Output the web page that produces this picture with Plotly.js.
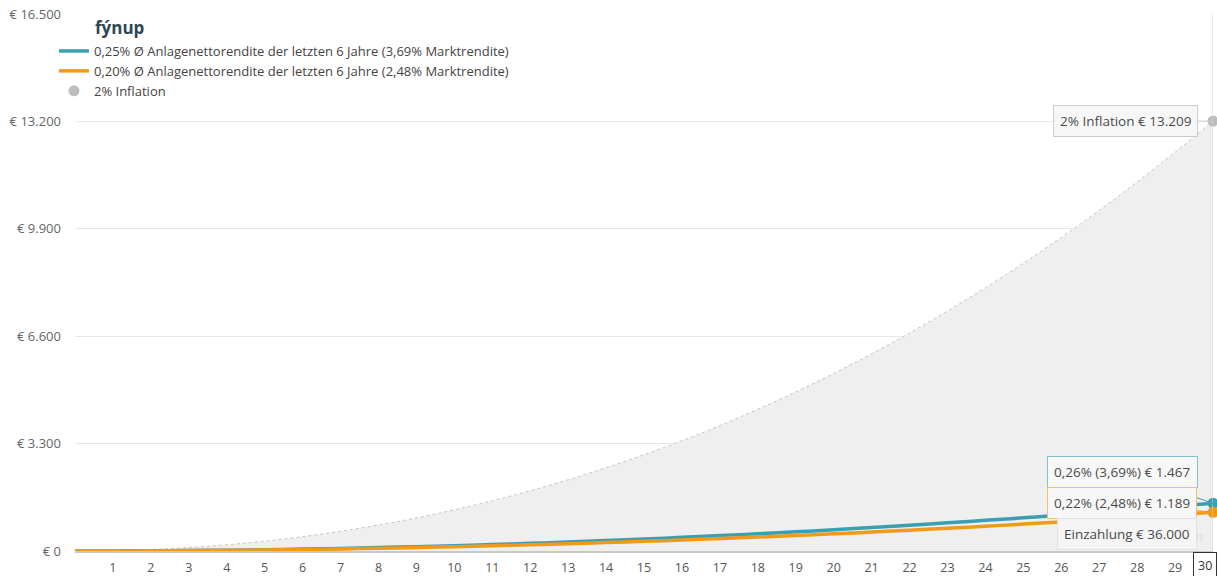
<!DOCTYPE html>
<html>
<head>
<meta charset="utf-8">
<script src="https://cdn.plot.ly/plotly-3.0.1.min.js"></script>
<style>html,body{margin:0;padding:0;background:#fff;}#chart{width:1217px;height:576px;}</style>
</head>
<body>
<div id="chart"></div>
<script>
// Years 0..30
const years = [0,1,2,3,4,5,6,7,8,9,10,11,12,13,14,15,16,17,18,19,20,21,22,23,24,25,26,27,28,29,30];
// Gain, 0,26% net return (3,69% market return)
const gainTeal = [0,2,7,15,26,41,59,80,105,133,164,198,236,277,321,368,419,473,530,590,654,721,791,865,941,1021,1104,1190,1280,1372,1467];
// Gain, 0,22% net return (2,48% market return)
const gainOrange = [0,1,5,12,21,33,48,65,85,107,132,160,190,223,259,297,338,382,428,477,528,583,639,699,761,826,893,963,1036,1111,1189];
// Loss from 2% inflation
const inflation = [0,11,47,106,192,303,441,605,798,1017,1265,1543,1850,2188,2557,2957,3388,3854,4353,4885,5452,6057,6696,7372,8086,8840,9632,10465,11338,12253,13209];

const seriesNames = [
  "0,25% Ø Anlagenettorendite der letzten 6 Jahre (3,69% Marktrendite)",
  "0,20% Ø Anlagenettorendite der letzten 6 Jahre (2,48% Marktrendite)",
  "2% Inflation"
];
const labelTeal = "0,26% (3,69%) € 1.467";
const labelOrange = "0,22% (2,48%) € 1.189";
const labelInfl = "2% Inflation € 13.209";
const labelDeposit = "Einzahlung € 36.000";

const xTicks = years.slice(1);

const TEAL = "#3a9fb1", ORANGE = "#f09a1a", GREY = "#bdbdbd";
const last = years.length - 1;

const traces = [
  {x: years, y: inflation, type: "scatter", mode: "lines", fill: "tozeroy",
   fillcolor: "#efefef", line: {color: "#c4c4c4", width: 1, dash: "dot", shape: "spline"},
   showlegend: false, hoverinfo: "skip"},
  {x: years, y: gainTeal, type: "scatter", mode: "lines", name: seriesNames[0],
   line: {color: TEAL, width: 3.5, shape: "spline"}},
  {x: years, y: gainOrange, type: "scatter", mode: "lines", name: seriesNames[1],
   line: {color: ORANGE, width: 3.5, shape: "spline"}},
  {x: [years[last]], y: [inflation[last]], type: "scatter", mode: "markers", name: seriesNames[2],
   marker: {color: GREY, size: 11}, cliponaxis: false},
  {x: [years[last]], y: [gainTeal[last]], type: "scatter", mode: "markers", showlegend: false,
   marker: {color: TEAL, size: 11}, cliponaxis: false},
  {x: [years[last]], y: [gainOrange[last]], type: "scatter", mode: "markers", showlegend: false,
   marker: {color: ORANGE, size: 11}, cliponaxis: false}
];

const boxFont = {family: "Open Sans, sans-serif", size: 13.5, color: "#4a4a4a"};

const layout = {
  width: 1217, height: 576,
  margin: {l: 75, r: 4, t: 14, b: 25, autoexpand: false},
  paper_bgcolor: "#fff", plot_bgcolor: "#fff",
  separators: ",.",
  font: {family: "Open Sans, sans-serif", size: 12, color: "#666"},
  showlegend: true,
  legend: {x: -0.0185, y: 0.959, xanchor: "left", yanchor: "top", bgcolor: "rgba(0,0,0,0)",
           font: {family: "Open Sans, sans-serif", size: 13, color: "#444"},
           tracegroupgap: 0, itemwidth: 30},
  xaxis: {range: [0, 30], tickvals: xTicks, showgrid: false, zeroline: false,
          showline: true, linecolor: "#c8c8c8", linewidth: 2, ticks: "",
          ticklabelstandoff: 4,
          tickfont: {size: 12.5, color: "#555"}, fixedrange: true},
  yaxis: {range: [0, 16500], tickmode: "linear", tick0: 0, dtick: 3300,
          tickprefix: "€ ", tickformat: ",d",
          showgrid: true, gridcolor: "#e8e8e8", gridwidth: 1, zeroline: false,
          showline: false, ticks: "", ticklabelstandoff: 13,
          tickfont: {size: 13, color: "#666"}, fixedrange: true},
  shapes: [
    {type: "line", xref: "x", yref: "paper", x0: 30, x1: 30, y0: 0, y1: 1,
     line: {color: "#d6d6d6", width: 1}}
  ],
  annotations: [
    {xref: "paper", yref: "paper", x: 0.0158, y: 0.974, xanchor: "left", yanchor: "middle",
     text: "<b>fýnup</b>", showarrow: false,
     font: {family: "Open Sans, sans-serif", size: 17, color: "#2d4654"}},
    {x: 30, y: inflation[last], text: labelInfl, showarrow: true, arrowhead: 0, arrowwidth: 1,
     arrowcolor: "#cccccc", ax: -88, ay: 0, bgcolor: "#f7f7f7", bordercolor: "#cccccc",
     borderwidth: 1, borderpad: 6, font: boxFont},
    {x: 30, y: gainTeal[last], text: labelTeal, showarrow: true, arrowhead: 0, arrowwidth: 1,
     arrowcolor: TEAL, ax: -91, ay: -31, bgcolor: "#f7f7f7", bordercolor: "#7cc3cf",
     borderwidth: 1, borderpad: 6, font: boxFont},
    {x: 30, y: gainOrange[last], text: labelOrange, showarrow: true, arrowhead: 0, arrowwidth: 1,
     arrowcolor: ORANGE, ax: -91, ay: -9, bgcolor: "#f7f7f7", bordercolor: "#f5c060",
     borderwidth: 1, borderpad: 6, font: boxFont},
    {x: 30, y: 0, text: "<i>Gewinn</i>", showarrow: false, xanchor: "right", yanchor: "bottom",
     xshift: -8, yshift: 4, font: {family: "Open Sans, sans-serif", size: 13, color: "#dcdcdc"}},
    {x: 30, y: 0, text: labelDeposit, showarrow: false, xanchor: "right", yanchor: "bottom",
     xshift: -16, yshift: 1, bgcolor: "#f5f5f5", bordercolor: "#e2e2e2", borderwidth: 1,
     borderpad: 6, font: boxFont},
    {x: 30, xref: "x", yref: "paper", y: 0, text: "30", showarrow: false, xanchor: "right",
     yanchor: "top", xshift: 4, yshift: -1, bgcolor: "#fff", bordercolor: "#333", borderwidth: 1,
     borderpad: 4, font: {family: "Open Sans, sans-serif", size: 12.5, color: "#333"}}
  ]
};

Plotly.newPlot("chart", traces, layout, {displayModeBar: false, staticPlot: true});
</script>
</body>
</html>
